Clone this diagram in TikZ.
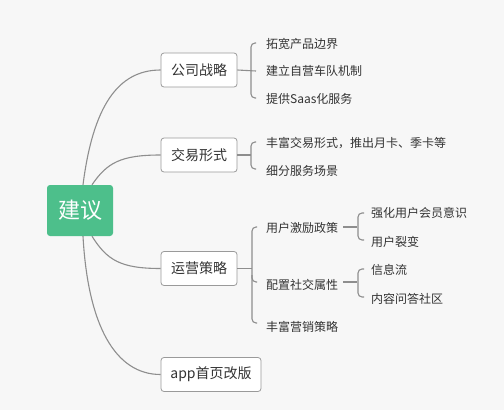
\documentclass[tikz,border=0pt]{standalone}
\usepackage{fontspec}
\setmainfont{Noto Sans CJK SC}
\usetikzlibrary{calc}
\definecolor{bg}{HTML}{F7F7F7}
\definecolor{rootgreen}{HTML}{4DBF8B}
\definecolor{linegray}{HTML}{8E8E8E}
\definecolor{boxgray}{HTML}{9A9A9A}
\definecolor{txt}{HTML}{333333}
\begin{document}
\begin{tikzpicture}[x=1pt,y=-1pt,
  conn/.style={draw=linegray, line width=1.1pt},
  rootbox/.style={fill=rootgreen, rounded corners=3pt, minimum width=66pt, minimum height=51pt, inner sep=0, text=white, font=\fontsize{22}{26}\selectfont},
  topic/.style={draw=boxgray, fill=white, rounded corners=3pt, line width=0.8pt, minimum height=34pt, minimum width=76pt, inner sep=0, text=txt, font=\fontsize{14}{17}\selectfont},
  leaf/.style={anchor=west, inner sep=0, text=txt, font=\fontsize{12}{14}\selectfont}]
\fill[bg] (0,0) rectangle (504,410);
\useasboundingbox (0,0) rectangle (504,410);

% root
\node[rootbox] (root) at (80,210.5) {建议};

% topics
\node[topic] (t1) at (199,70) {公司战略};
\node[topic] (t2) at (199,155) {交易形式};
\node[topic] (t3) at (199,268.5) {运营策略};
\node[topic, minimum width=100pt] (t4) at (211,374.5) {app首页改版};

% root connectors
\draw[conn] ($(root.north)+(3,0)$) .. controls +(10,-78) and +(-43,0) .. (t1.west);
\draw[conn] ($(root.north)+(12,0)$) .. controls +(15,-22) and +(-40,0) .. (t2.west);
\draw[conn] ($(root.south)+(12,0)$) .. controls +(15,24) and +(-40,0) .. (t3.west);
\draw[conn] ($(root.south)+(3,0)$) .. controls +(5,90) and +(-45,0) .. (t4.west);

% leaves of t1
\node[leaf] (c11) at (266,44) {拓宽产品边界};
\node[leaf] (c12) at (266,71) {建立自营车队机制};
\node[leaf] (c13) at (266,99) {提供Saas化服务};
\coordinate (v1) at ($(c12.west)+(-15,0)$);
\draw[conn] (t1.east) -- ($(c12.west)+(-10,0)$);
\draw[conn, rounded corners=4pt] ($(c11.west)+(-10,-1)$) -| ($(c13.west)+(-15,-1)$) -- ($(c13.west)+(-10,-1)$);

% leaves of t2
\node[leaf] (c21) at (266,143) {丰富交易形式，推出月卡、季卡等};
\node[leaf] (c22) at (266,171) {细分服务场景};
\coordinate (v2) at ($(c21.west)+(-15,0)$);
\draw[conn] (t2.east) -- (t2.east -| v2);
\draw[conn, rounded corners=4pt] ($(c21.west)+(-10,-1)$) -| ($(c22.west)+(-15,-2)$) -- ($(c22.west)+(-10,-2)$);

% leaves of t3
\node[leaf] (c31) at (266,228) {用户激励政策};
\node[leaf] (c32) at (266,285) {配置社交属性};
\node[leaf] (c33) at (266,327) {丰富营销策略};
\coordinate (v3) at ($(c31.west)+(-14,0)$);
\draw[conn] (t3.east) -- (t3.east -| v3);
\draw[conn, rounded corners=4pt] ($(c31.west)+(-9,-1)$) -| ($(c33.west)+(-14,-4)$) -- ($(c33.west)+(-9,-4)$);
\draw[conn, rounded corners=4pt] ($(c32.west)+(-14,-10)$) |- ($(c32.west)+(-9,-3)$);

% sub leaves of c31
\node[leaf] (c311) at (371,213) {强化用户会员意识};
\node[leaf] (c312) at (371,242) {用户裂变};
\draw[conn] ($(c31.east)+(5,-1)$) -- ($(c31.east -| c311.west)+(-14,-1)$);
\draw[conn, rounded corners=4pt] ($(c311.west)+(-7,0)$) -| ($(c312.west)+(-13,-2)$) -- ($(c312.west)+(-7,-2)$);

% sub leaves of c32
\node[leaf] (c321) at (371,270) {信息流};
\node[leaf] (c322) at (371,299) {内容问答社区};
\draw[conn] ($(c32.east)+(5,-3)$) -- ($(c32.east -| c321.west)+(-14,-3)$);
\draw[conn, rounded corners=4pt] ($(c321.west)+(-7,-1)$) -| ($(c322.west)+(-13,-2)$) -- ($(c322.west)+(-7,-2)$);
\end{tikzpicture}
\end{document}
